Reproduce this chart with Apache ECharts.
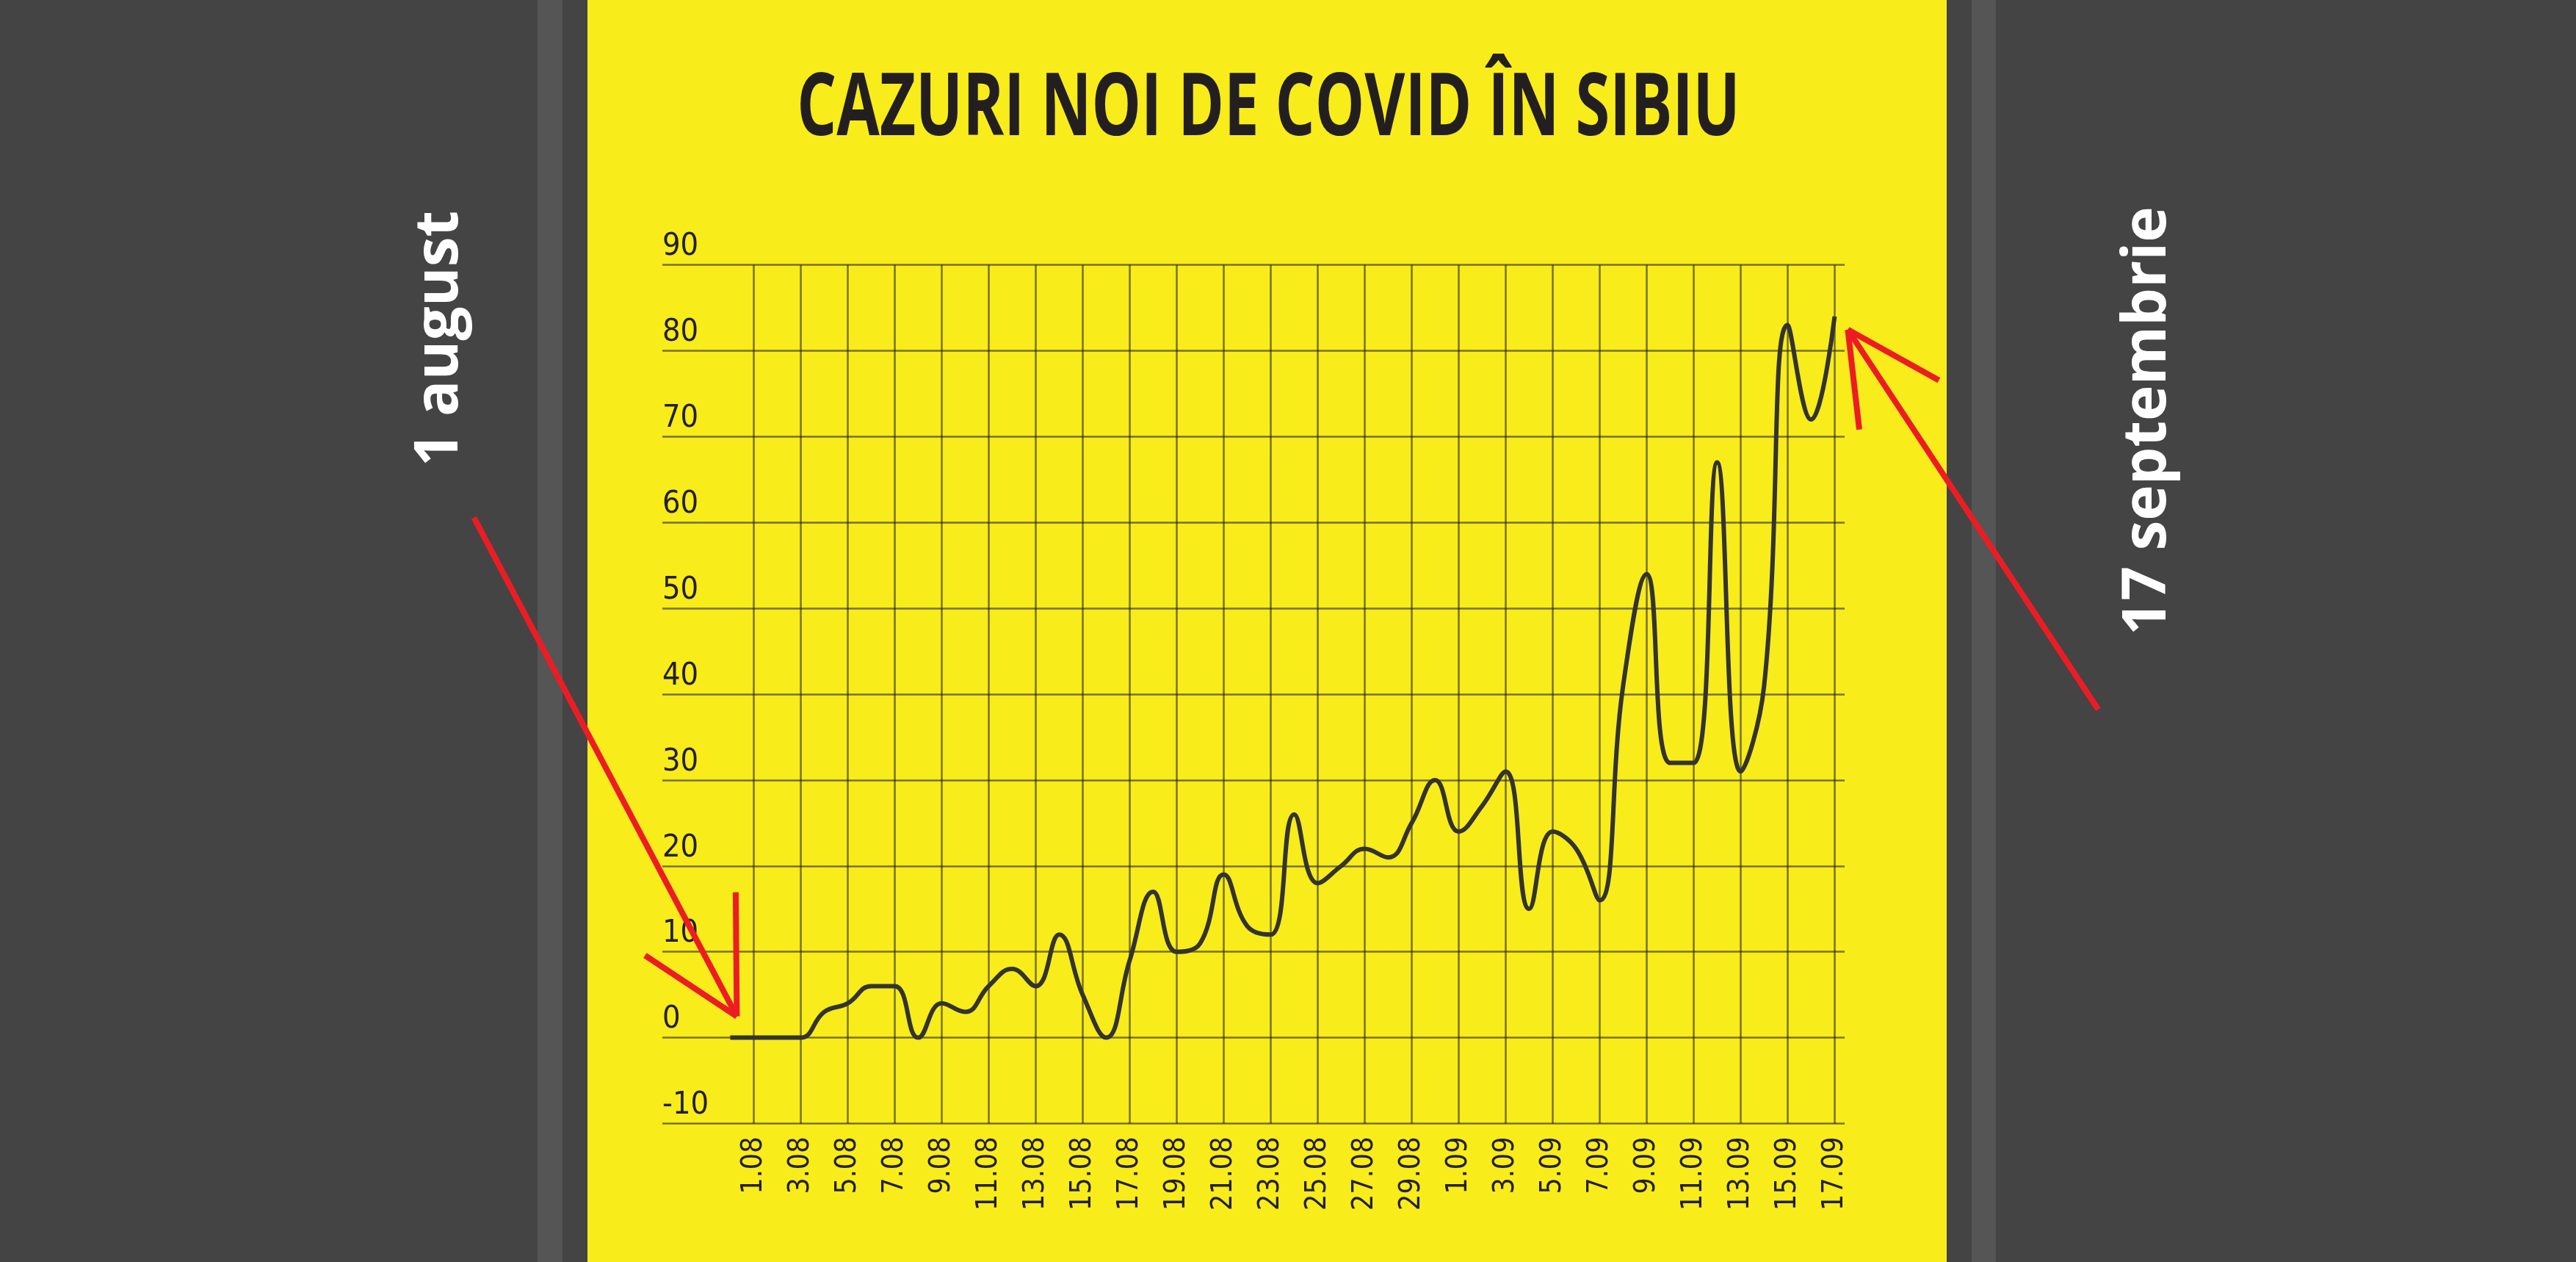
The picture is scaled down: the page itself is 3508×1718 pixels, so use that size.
<!DOCTYPE html>
<html>
<head>
<meta charset="utf-8">
<script src="https://cdn.jsdelivr.net/npm/echarts@6/dist/echarts.min.js"></script>
<style>
  html, body { margin: 0; padding: 0; background: #444444; }
  #chart { width: 3508px; height: 1718px; }
</style>
</head>
<body>
<div id="chart"></div>
<script>
// ---- data ----
const categories = ['31.07',
  '1.08','2.08','3.08','4.08','5.08','6.08','7.08','8.08','9.08','10.08',
  '11.08','12.08','13.08','14.08','15.08','16.08','17.08','18.08','19.08','20.08',
  '21.08','22.08','23.08','24.08','25.08','26.08','27.08','28.08','29.08','30.08',
  '1.09','2.09','3.09','4.09','5.09','6.09','7.09','8.09','9.09','10.09',
  '11.09','12.09','13.09','14.09','15.09','16.09','17.09'];
const cases = [0,
  0,0,0,3,4,6,6,0,4,3,
  6,8,6,12,5,0,9,17,10,11,
  19,13,12,26,18,20,22,21,25,30,
  24,27,31,15,24,22,16,41,54,32,
  32,67,31,41,83,72,84];
const yTicks = { min: -10, max: 90, step: 10 };
const titleText = 'CAZURI NOI DE COVID ÎN SIBIU';
const sideLeft = '1 august';
const sideRight = '17 septembrie';

const INK = '#231f20';
const GRIDC = 'rgba(35,31,32,0.6)';
const RED = '#ed1c24';

// title sizing: condensed bold headline (cap height ~87px, width ~1273px)
const TITLE_FONT = '"Open Sans", "DejaVu Sans", sans-serif';
const mctx = document.createElement('canvas').getContext('2d');
mctx.textBaseline = 'middle';
mctx.font = 'bold 100px ' + TITLE_FONT;
const m100 = mctx.measureText('CAZURI NOI DE COVID');
const capH100 = m100.actualBoundingBoxAscent + m100.actualBoundingBoxDescent;
const titleFs = 100 * 87 / capH100;
mctx.font = 'bold ' + titleFs + 'px ' + TITLE_FONT;
const mt = mctx.measureText(titleText);
const mc = mctx.measureText('CAZURI NOI DE COVID');
const titleW = mt.actualBoundingBoxLeft + mt.actualBoundingBoxRight;
const titleScaleX = 1273 / titleW;
const titleY = 98 + mc.actualBoundingBoxAscent;

const chart = echarts.init(document.getElementById('chart'), null, { renderer: 'canvas' });

const showIdx = (i) => i % 2 === 1;

const option = {
  backgroundColor: '#444444',
  animation: false,
  graphic: [
    { id: 'stripL', type: 'rect', z: -20, silent: true, shape: { x: 732, y: 0, width: 34, height: 1718 }, style: { fill: '#555555' } },
    { id: 'stripR', type: 'rect', z: -20, silent: true, shape: { x: 2685, y: 0, width: 33, height: 1718 }, style: { fill: '#555555' } },
    { id: 'panel', type: 'rect', z: -20, silent: true, shape: { x: 800, y: 0, width: 1851, height: 1718 }, style: { fill: '#f8ec1b' } },
    { id: 'title', type: 'text', z: 50, silent: true, x: 1727.5, y: titleY, scaleX: titleScaleX,
      style: { text: titleText, x: 0, y: 0, align: 'center', verticalAlign: 'middle', fill: INK,
               font: 'bold ' + titleFs + 'px ' + TITLE_FONT } },
    { id: 'txtL', type: 'text', z: 50, silent: true, x: 600, y: 461, rotation: Math.PI / 2,
      style: { text: sideLeft, x: 0, y: 0, align: 'center', verticalAlign: 'middle', fill: '#ffffff',
               font: 'bold 82px "Open Sans", sans-serif' } },
    { id: 'txtR', type: 'text', z: 50, silent: true, x: 2926, y: 573, rotation: Math.PI / 2,
      style: { text: sideRight, x: 0, y: 0, align: 'center', verticalAlign: 'middle', fill: '#ffffff',
               font: 'bold 82px "Open Sans", sans-serif' } }
  ],
  grid: [
    { left: 902, right: 996, top: 360.7, bottom: 188.5, containLabel: false },
    { left: 994.4, right: 1009.6, top: 360.7, bottom: 188.5, containLabel: false }
  ],
  xAxis: [
    { gridIndex: 0, type: 'value', show: false, min: 0, max: 1 },
    {
      gridIndex: 1, type: 'category', data: categories, boundaryGap: false,
      axisLine: { show: false }, axisTick: { show: false },
      axisLabel: {
        interval: (i) => showIdx(i), rotate: 90, margin: 18,
        fontFamily: '"DejaVu Sans Condensed", "DejaVu Sans", sans-serif',
        fontSize: 39, color: INK
      },
      splitLine: { show: true, interval: (i) => showIdx(i), lineStyle: { color: GRIDC, width: 2.5 } }
    }
  ],
  yAxis: [
    {
      gridIndex: 0, type: 'value', min: yTicks.min, max: yTicks.max, interval: yTicks.step,
      axisLine: { show: false }, axisTick: { show: false },
      axisLabel: {
        inside: true, margin: 0, align: 'left', verticalAlign: 'bottom',
        padding: [0, 0, 3, 0],
        fontFamily: '"DejaVu Sans Condensed", "DejaVu Sans", sans-serif',
        fontSize: 43, color: INK
      },
      splitLine: { show: true, lineStyle: { color: GRIDC, width: 2.5 } }
    },
    { gridIndex: 1, type: 'value', min: yTicks.min, max: yTicks.max, interval: yTicks.step, show: false,
      splitLine: { show: false } }
  ],
  series: [
    {
      type: 'line', xAxisIndex: 1, yAxisIndex: 1, data: cases,
      smooth: 0.45, symbol: 'none', z: 5,
      lineStyle: { color: '#333333', width: 6 }
    }
  ]
};

chart.setOption(option);

// red annotation arrows anchored to the first and last data points
const p1 = chart.convertToPixel({ seriesIndex: 0 }, [1, cases[1]]);
const p2 = chart.convertToPixel({ seriesIndex: 0 }, [categories.length - 1, cases[cases.length - 1]]);
const t1 = [p1[0] - 23, p1[1] - 29];
const t2 = [p2[0] + 18, p2[1] + 18];
const seg = (id, a, b) => ({ id, type: 'line', z: 60, silent: true,
  shape: { x1: a[0], y1: a[1], x2: b[0], y2: b[1] },
  style: { stroke: RED, lineWidth: 8, lineCap: 'butt' } });
chart.setOption({
  graphic: [
    seg('aL1', [t1[0] - 358, t1[1] - 679], t1),
    seg('aL2', [t1[0] - 125, t1[1] - 83], t1),
    seg('aL3', [t1[0] - 1.5, t1[1] - 169], t1),
    seg('aR1', [t2[0] + 341, t2[1] + 517], t2),
    seg('aR2', [t2[0] + 124, t2[1] + 69], t2),
    seg('aR3', [t2[0] + 15.6, t2[1] + 136], t2)
  ]
});
</script>
</body>
</html>
